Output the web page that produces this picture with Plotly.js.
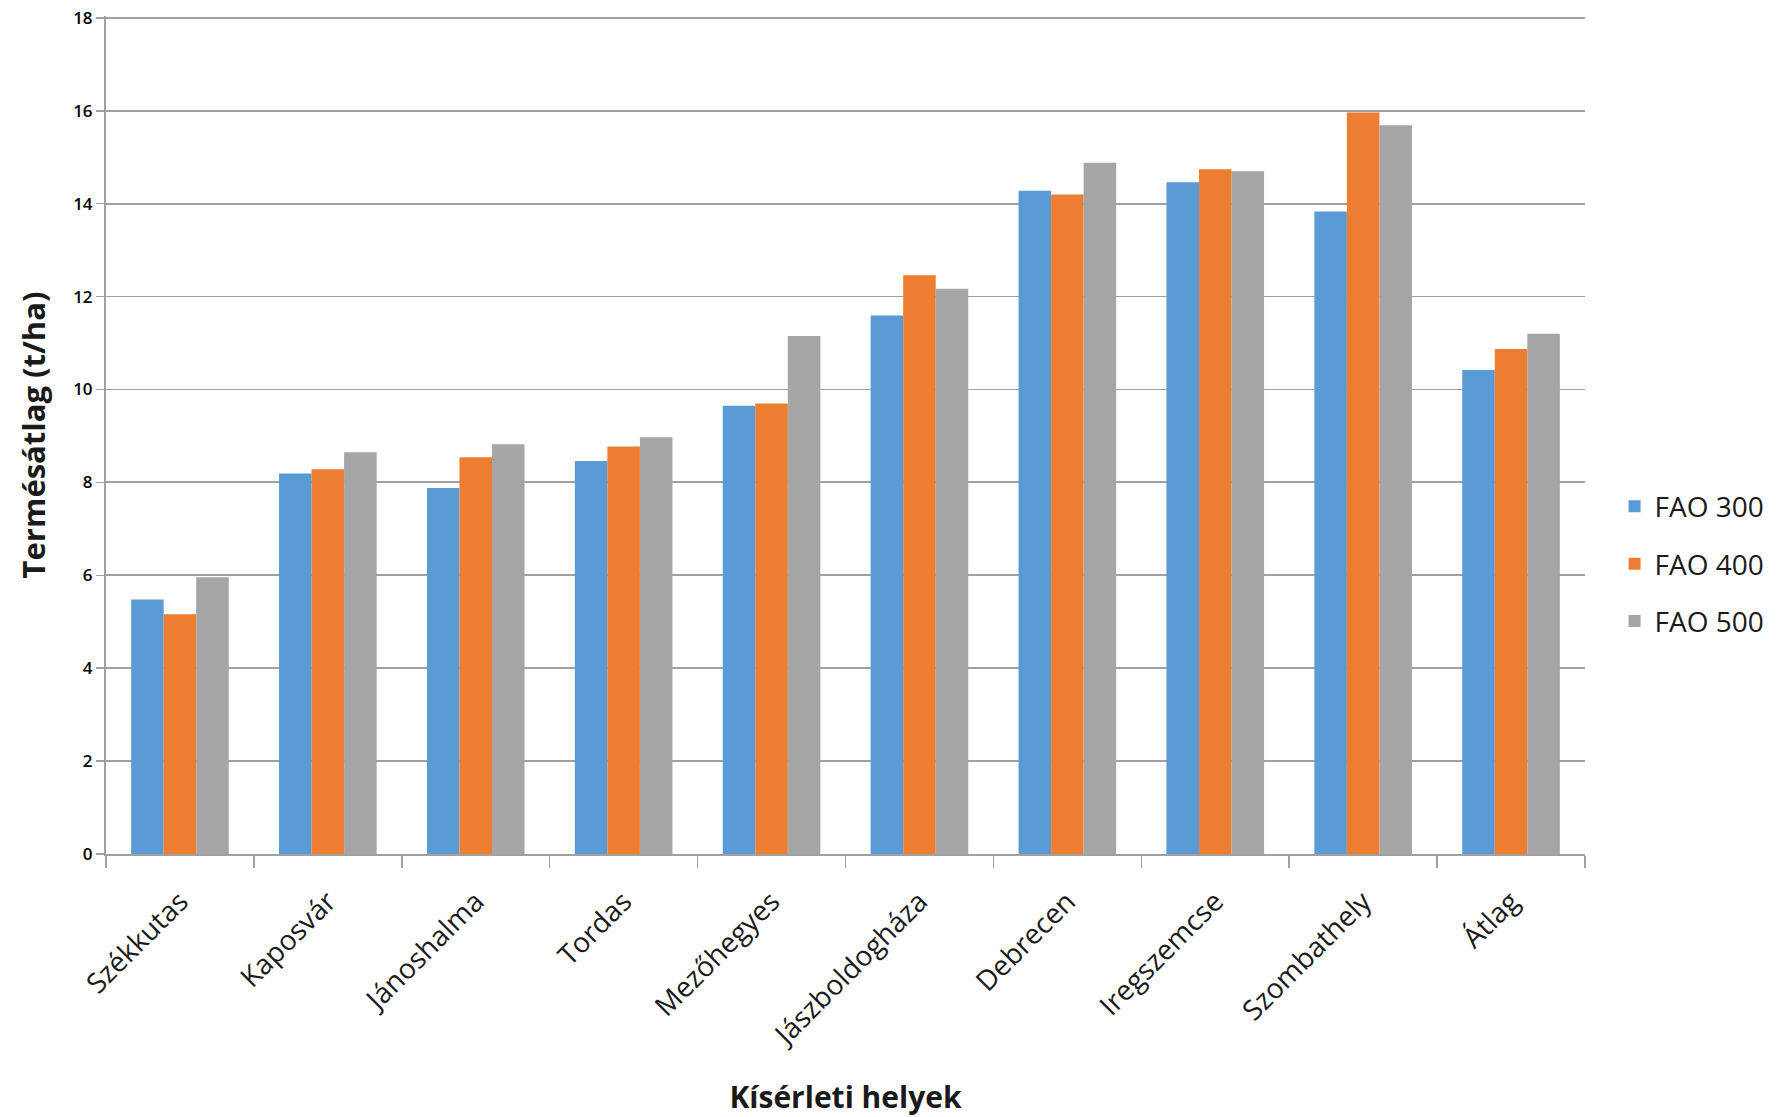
<!DOCTYPE html>
<html>
<head>
<meta charset="utf-8">
<script src="https://cdn.plot.ly/plotly-3.0.1.min.js"></script>
<style>html,body{margin:0;padding:0;background:#fff;}#chart{width:1782px;height:1117px;}</style>
</head>
<body>
<div id="chart"></div>
<script>
const categories = ["Székkutas","Kaposvár","Jánoshalma","Tordas","Mezőhegyes","Jászboldogháza","Debrecen","Iregszemcse","Szombathely","Átlag"];
const seriesNames = ["FAO 300","FAO 400","FAO 500"];
const fao300 = [5.48, 8.19, 7.88, 8.46, 9.65, 11.59, 14.28, 14.46, 13.83, 10.42];
const fao400 = [5.16, 8.28, 8.54, 8.77, 9.70, 12.46, 14.20, 14.74, 15.96, 10.87];
const fao500 = [5.96, 8.65, 8.82, 8.97, 11.15, 12.17, 14.88, 14.70, 15.69, 11.20];
const yTicks = [0,2,4,6,8,10,12,14,16,18];
const colors = ["#5b9bd5","#ed7d31","#a5a5a5"];

const values = [fao300, fao400, fao500];
const traces = values.map((v,i)=>({
  type:'bar', x:categories, y:v, name:seriesNames[i],
  legendgroup:'g'+i,
  marker:{color:colors[i], line:{width:0}},
  hoverinfo:'x+y'
}));

const layout = {
  width:1782, height:1117,
  margin:{l:106, r:185, t:16, b:263},
  paper_bgcolor:'#fff', plot_bgcolor:'#fff',
  barmode:'group', bargap:0.34, bargroupgap:0,
  font:{family:'"Open Sans", "Noto Sans", sans-serif', color:'#1a1a1a'},
  xaxis:{
    type:'category',
    tickangle:-45,
    tickfont:{size:28, color:'#1a1a1a'},
    ticks:'outside', ticklen:12, tickcolor:'#a0a0a0', tickwidth:1.5,
    ticklabelstandoff:18,
    tickson:'boundaries',
    showline:true, linecolor:'#a0a0a0', linewidth:2,
    showgrid:false,
    title:{text:'<b>Kísérleti helyek</b>', font:{size:30, color:'#1a1a1a'}, standoff:38}
  },
  yaxis:{
    range:[0,18.04], tickvals:yTicks, ticktext:yTicks.map(String),
    tickfont:{size:17, color:'#000000', weight:600},
    ticks:'outside', ticklen:8, tickcolor:'#a0a0a0', tickwidth:1.5,
    showline:true, linecolor:'#a0a0a0', linewidth:2,
    showgrid:true, gridcolor:'#a0a0a0', gridwidth:1.8,
    zeroline:false,
    title:{text:'<b>Termésátlag (t/ha)</b>', font:{size:31, color:'#1a1a1a'}, standoff:18}
  },
  legend:{
    x:1.02, y:0.346, xanchor:'left', yanchor:'middle',
    traceorder:'grouped', tracegroupgap:18,
    font:{size:28, color:'#1a1a1a'},
    itemwidth:30
  },
  showlegend:true
};

Plotly.newPlot('chart', traces, layout, {displayModeBar:false, staticPlot:true});
</script>
</body>
</html>
